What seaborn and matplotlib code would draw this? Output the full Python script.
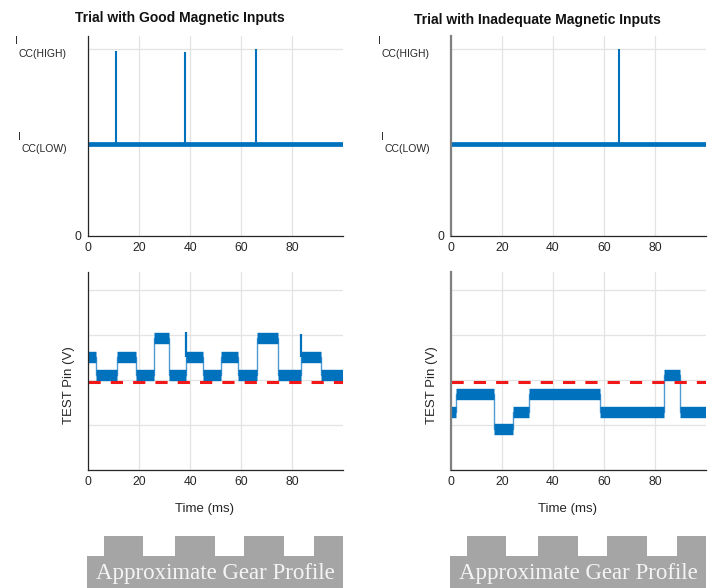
import numpy as np
import pandas as pd
import matplotlib
matplotlib.use("Agg")
import matplotlib.pyplot as plt
import seaborn as sns

# ---------------- data ----------------
time_range = [0, 100]
x_ticks = [0, 20, 40, 60, 80]

# Supply current (top row), normalised: I_CC(HIGH)=1
icc_zero = 0.0
icc_low = 0.49
icc_high = 1.0
good_spike_t = [11.1, 38.2, 65.9]
good_spike_peak = [0.99, 0.985, 1.0]
bad_spike_t = [65.8]
bad_spike_peak = [1.0]

# TEST pin voltage (bottom row), step levels
good_edges = [0, 3.3, 11.3, 18.8, 25.8, 31.6, 38.4, 45.0, 52.3, 58.8, 66.3, 74.4, 83.5, 91.4, 100]
good_levels = [2.52, 2.12, 2.52, 2.12, 2.93, 2.12, 2.52, 2.12, 2.52, 2.12, 2.93, 2.12, 2.52, 2.12]
good_test_spike_t = [38.4, 83.5]
good_test_spike_peak = [3.07, 3.02]

bad_edges = [0, 2.0, 16.7, 24.3, 30.7, 58.3, 83.4, 89.8, 100]
bad_levels = [1.30, 1.70, 0.91, 1.30, 1.70, 1.30, 2.12, 1.30]

threshold = 1.96
test_ticks = [0, 1, 2, 3, 4]

# Gear profile (teeth positions in ms)
tooth_start = [6.5, 34.5, 61.5, 88.5]
tooth_end = [22.0, 50.0, 77.0, 100.0]

titles = ["Trial with Good Magnetic Inputs", "Trial with Inadequate Magnetic Inputs"]

# ---------------- style ----------------
sns.set_style("white")
plt.rcParams["font.family"] = ["Liberation Sans", "DejaVu Sans"]

BLUE = "#0072BD"
LIGHTBLUE = "#4F9AD3"
RED = "#F01818"
GRID = "#E3E3E3"
GEAR = "#A5A5A5"

W, H = 714, 588
fig = plt.figure(figsize=(W / 100, H / 100), dpi=100)


def fx(px):
    return px / W


def fy(py):
    return 1 - py / H


lefts = [88, 451]
ax_w = 255


def style_axes(ax, right_panel):
    ax.set_xlim(time_range)
    ax.set_xticks(x_ticks)
    ax.grid(True, color=GRID, lw=0.9)
    ax.set_axisbelow(True)
    for s in ["top", "right"]:
        ax.spines[s].set_visible(False)
    ax.spines["bottom"].set_color("#262626")
    ax.spines["bottom"].set_linewidth(0.9)
    if right_panel:
        ax.spines["left"].set_color("#808080")
        ax.spines["left"].set_linewidth(1.6)
    else:
        ax.spines["left"].set_color("#262626")
        ax.spines["left"].set_linewidth(0.9)
    ax.tick_params(direction="in", length=2.5, width=0.8, colors="#262626",
                   labelsize=8.7, pad=4.5, labelcolor="#262626")
    ax.set_xlabel("")
    ax.set_ylabel("")


def icc_labels(ax):
    kw = dict(xycoords=("axes fraction", "data"), textcoords="offset points",
              fontsize=7.5, color="#262626", va="center")
    ax.annotate("I", xy=(0, icc_high), xytext=(-51.5, 5.5), ha="center", **kw)
    ax.annotate("CC(HIGH)", xy=(0, icc_high), xytext=(-15.6, -3.6), ha="right", **kw)
    ax.annotate("I", xy=(0, icc_low), xytext=(-49.5, 5.5), ha="center", **kw)
    ax.annotate("CC(LOW)", xy=(0, icc_low), xytext=(-15.2, -3.6), ha="right", **kw)


spikes_top = [(good_spike_t, good_spike_peak), (bad_spike_t, bad_spike_peak)]
steps = [(good_edges, good_levels, good_test_spike_t, good_test_spike_peak),
         (bad_edges, bad_levels, [], [])]

for i in range(2):
    right = i == 1
    # ---------- top: supply current ----------
    ax = fig.add_axes([fx(lefts[i]), fy(236), ax_w / W, 200 / H])
    base = pd.DataFrame({"t": time_range, "i": [icc_low, icc_low]})
    sns.lineplot(data=base, x="t", y="i", ax=ax, color=BLUE, lw=3.4, estimator=None)
    st, sp = spikes_top[i]
    ax.vlines(st, icc_low, sp, color=BLUE, lw=1.5)
    ax.set_ylim(0, 1.07)
    ax.set_yticks([icc_zero, icc_low, icc_high])
    ax.set_yticklabels(["0", "", ""])
    style_axes(ax, right)
    icc_labels(ax)

    # ---------- bottom: TEST pin ----------
    ax2 = fig.add_axes([fx(lefts[i]), fy(470), ax_w / W, 198 / H])
    edges, levels, spt, spp = steps[i]
    df = pd.DataFrame({"t": edges, "v": list(levels) + [levels[-1]]})
    sns.lineplot(data=df, x="t", y="v", ax=ax2, color=LIGHTBLUE, lw=1.0,
                 drawstyle="steps-post", estimator=None)
    ax2.hlines(levels, edges[:-1], edges[1:], color=BLUE, lw=8.2)
    if spt:
        lev_at = [levels[edges.index(t)] for t in spt]
        ax2.vlines(spt, lev_at, spp, color=BLUE, lw=1.6)
    thr = pd.DataFrame({"t": time_range, "v": [threshold, threshold]})
    sns.lineplot(data=thr, x="t", y="v", ax=ax2, color=RED, lw=2.2,
                 linestyle=(0, (4, 3.3)), estimator=None)
    ax2.set_ylim(0, 4.4)
    ax2.set_yticks(test_ticks)
    ax2.set_yticklabels([])
    style_axes(ax2, right)
    ax2.set_xlabel("Time (ms)", fontsize=9.5, color="#262626")
    ax2.xaxis.set_label_coords(0.458, -0.165)
    ax2.set_ylabel("TEST Pin (V)", fontsize=9.5, color="#262626")
    ax2.yaxis.set_label_coords(-0.05, 0.43)

    # ---------- gear profile ----------
    axg = fig.add_axes([fx(lefts[i] - 1), 0, (ax_w + 1) / W, 53 / H])
    axg.bar([0], [0.604], width=[100], align="edge", color=GEAR, lw=0)
    widths = [e - s for s, e in zip(tooth_start, tooth_end)]
    axg.bar(tooth_start, [0.98] * len(tooth_start), width=widths, align="edge",
            color=GEAR, lw=0)
    axg.set_xlim(0, 100)
    axg.set_ylim(0, 1)
    axg.axis("off")
    axg.text(50, 0.17, "Approximate Gear Profile", family=["Liberation Serif", "DejaVu Serif"],
             fontsize=16.5, color="#F4F4F4", ha="center", va="baseline")

fig.text(fx(180), fy(18), titles[0], fontsize=10, fontweight="bold",
         ha="center", va="center", color="#111111")
fig.text(fx(537), fy(20), titles[1], fontsize=10, fontweight="bold",
         ha="center", va="center", color="#111111")

fig.savefig("out.png", dpi=100)
